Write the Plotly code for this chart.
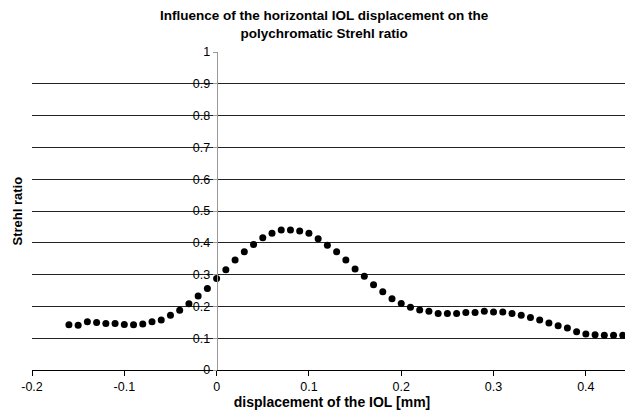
import plotly.graph_objects as go

# horizontal IOL displacement [mm] and polychromatic Strehl ratio
displacement = [
    -0.16, -0.15, -0.14, -0.13, -0.12, -0.11, -0.10, -0.09, -0.08, -0.07,
    -0.06, -0.05, -0.04, -0.03, -0.02, -0.01, 0.00, 0.01, 0.02, 0.03,
    0.04, 0.05, 0.06, 0.07, 0.08, 0.09, 0.10, 0.11, 0.12, 0.13,
    0.14, 0.15, 0.16, 0.17, 0.18, 0.19, 0.20, 0.21, 0.22, 0.23,
    0.24, 0.25, 0.26, 0.27, 0.28, 0.29, 0.30, 0.31, 0.32, 0.33,
    0.34, 0.35, 0.36, 0.37, 0.38, 0.39, 0.40, 0.41, 0.42, 0.43, 0.44,
]
strehl = [
    0.142, 0.141, 0.152, 0.149, 0.146, 0.146, 0.143, 0.142, 0.145, 0.152,
    0.157, 0.172, 0.188, 0.208, 0.233, 0.256, 0.288, 0.315, 0.346, 0.372,
    0.395, 0.416, 0.430, 0.440, 0.440, 0.437, 0.430, 0.413, 0.392, 0.372,
    0.346, 0.318, 0.295, 0.268, 0.246, 0.224, 0.209, 0.197, 0.189, 0.185,
    0.178, 0.178, 0.178, 0.181, 0.181, 0.185, 0.182, 0.182, 0.178, 0.172,
    0.165, 0.157, 0.148, 0.139, 0.132, 0.120, 0.113, 0.111, 0.109, 0.109, 0.109,
]

x_ticks = [-0.2, -0.1, 0, 0.1, 0.2, 0.3, 0.4]
x_ticklabels = ["-0.2", "-0.1", "0", "0.1", "0.2", "0.3", "0.4"]
y_ticks = [0, 0.1, 0.2, 0.3, 0.4, 0.5, 0.6, 0.7, 0.8, 0.9, 1]
y_ticklabels = ["0", "0.1", "0.2", "0.3", "0.4", "0.5", "0.6", "0.7", "0.8", "0.9", "1"]

X_RANGE = [-0.2, 0.45]
FONT = "Liberation Sans, Arial, sans-serif"

fig = go.Figure(go.Scatter(
    x=displacement, y=strehl, mode="markers",
    marker=dict(color="black", size=7),
    showlegend=False,
))

# y axis sits at x = 0, like the Excel original
y_pos = (0 - X_RANGE[0]) / (X_RANGE[1] - X_RANGE[0])

# page body has an 8px margin, so the figure is a bit smaller than the window
fig.update_layout(
    width=625, height=407,
    margin=dict(l=24, r=1, t=44, b=45),
    plot_bgcolor="white", paper_bgcolor="white",
    font=dict(family=FONT, size=12, color="black"),
    xaxis=dict(
        range=X_RANGE, tickvals=x_ticks, ticktext=x_ticklabels,
        automargin=False,
        showgrid=False, zeroline=False,
        showline=True, linecolor="black", linewidth=1,
        ticks="outside", ticklen=5, tickcolor="black",
        tickfont=dict(size=12.5),
        title=dict(text="<b>displacement of the IOL [mm]</b>", standoff=3,
                   font=dict(size=14)),
    ),
    yaxis=dict(
        range=[0, 1], tickvals=y_ticks, ticktext=y_ticklabels,
        anchor="free", position=y_pos, automargin=False,
        showgrid=True, gridcolor="#222", gridwidth=1,
        zeroline=False,
        showline=True, linecolor="#999", linewidth=1,
        ticks="outside", ticklen=4, tickcolor="#999",
        tickfont=dict(size=12.5),
    ),
    annotations=[
        dict(
            text="<b>Influence of the horizontal IOL displacement on the<br>polychromatic Strehl ratio</b>",
            xref="paper", yref="paper", x=0.488, y=1 + 45 / 318,
            xanchor="center", yanchor="top", showarrow=False,
            font=dict(size=13.5), borderpad=0,
        ),
        dict(
            text="<b>Strehl ratio</b>", textangle=-90,
            xref="paper", yref="paper", x=-24 / 600, y=0.5,
            xanchor="left", yanchor="middle", showarrow=False,
            font=dict(size=13), borderpad=0,
        ),
    ],
)

fig.write_html("out.html")
